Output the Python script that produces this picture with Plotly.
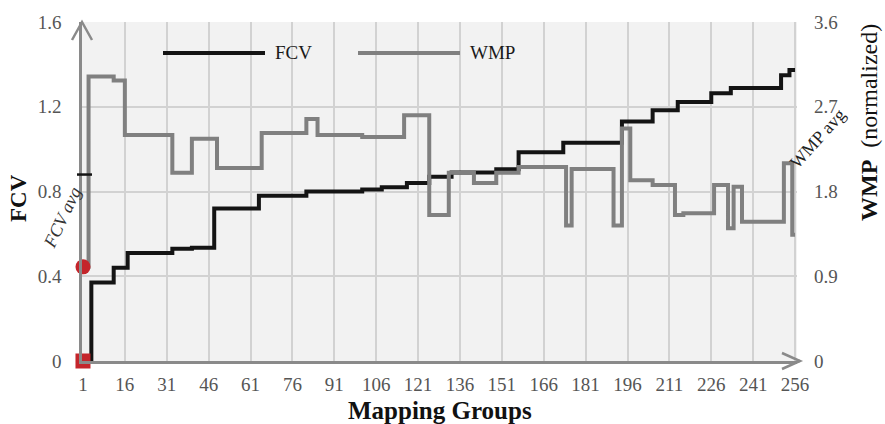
import plotly.graph_objects as go

# ---- data ----
groups_ticks = [1, 16, 31, 46, 61, 76, 91, 106, 121, 136, 151, 166, 181, 196, 211, 226, 241, 256]

# FCV: step breakpoints (group where level starts, level)
fcv_groups = [1, 4, 12, 17, 33, 40, 48, 64, 81, 101, 108, 117, 125, 133, 149, 157, 173, 194, 205, 214, 226, 233, 251, 254, 256]
fcv_values = [0.0, 0.37, 0.44, 0.51, 0.53, 0.535, 0.72, 0.78, 0.80, 0.81, 0.82, 0.84, 0.87, 0.89, 0.905, 0.985, 1.03, 1.13, 1.184, 1.222, 1.264, 1.288, 1.349, 1.373, 1.373]

# WMP (normalized): step breakpoints
wmp_groups = [1, 3, 12, 16, 33, 40, 49, 65, 81, 85, 101, 116, 125, 132, 141, 149, 157, 174, 176, 191, 194, 197, 205, 213, 216, 227, 232, 234, 237, 252, 255, 256]
wmp_values = [1.0, 3.02, 2.98, 2.40, 2.00, 2.36, 2.05, 2.42, 2.57, 2.40, 2.38, 2.61, 1.55, 2.00, 1.89, 2.00, 2.06, 1.44, 2.04, 1.44, 2.47, 1.92, 1.87, 1.55, 1.57, 1.87, 1.41, 1.85, 1.48, 2.10, 1.34, 1.34]

fcv_avg = 0.88
fcv_ticks = [0, 0.4, 0.8, 1.2, 1.6]
fcv_ticktext = ["0", "0.4", "0.8", "1.2", "1.6"]
wmp_ticks = [0, 0.9, 1.8, 2.7, 3.6]
wmp_ticktext = ["0", "0.9", "1.8", "2.7", "3.6"]

SERIF = "Liberation Serif"
GRAY_TXT = "#555555"
AXIS_GRAY = "#8a8a8a"

fig = go.Figure()
fig.add_trace(go.Scatter(x=fcv_groups, y=fcv_values, mode="lines", line=dict(color="#141414", width=4, shape="hv"),
                         name="FCV", yaxis="y", showlegend=False))
fig.add_trace(go.Scatter(x=wmp_groups, y=wmp_values, mode="lines", line=dict(color="#808080", width=4, shape="hv"),
                         name="WMP", yaxis="y2", showlegend=False))
# red start markers
fig.add_trace(go.Scatter(x=[fcv_groups[0]], y=[fcv_values[0]], mode="markers", yaxis="y",
                         marker=dict(symbol="square", size=15, color="#c4252b"), cliponaxis=False, showlegend=False))
fig.add_trace(go.Scatter(x=[wmp_groups[0]], y=[wmp_values[0]], mode="markers", yaxis="y2",
                         marker=dict(symbol="circle", size=15, color="#c4252b"), cliponaxis=False, showlegend=False))

L, R, T, B = 82, 88, 22, 63
W, H = 885, 424
pw, ph = W - L - R, H - T - B

def px(x):
    return (x - L) / pw

def py(y):
    return (H - B - y) / ph

shapes = []
# legend lines
shapes.append(dict(type="line", xref="paper", yref="paper", x0=px(163), x1=px(265), y0=py(53), y1=py(53),
                   line=dict(color="#141414", width=4)))
shapes.append(dict(type="line", xref="paper", yref="paper", x0=px(358), x1=px(460), y0=py(53), y1=py(53),
                   line=dict(color="#808080", width=4)))
# axis arrows
shapes.append(dict(type="path", xref="paper", yref="paper",
                   path=f"M {px(72)} {py(40)} L {px(82)} {py(22)} L {px(92)} {py(40)}",
                   line=dict(color=AXIS_GRAY, width=2.5)))
shapes.append(dict(type="line", xref="paper", yref="paper", x0=1, x1=px(800), y0=0, y1=0,
                   line=dict(color=AXIS_GRAY, width=2.5)))
shapes.append(dict(type="path", xref="paper", yref="paper",
                   path=f"M {px(782)} {py(353)} L {px(800)} {py(361)} L {px(782)} {py(369)}",
                   line=dict(color=AXIS_GRAY, width=2.5)))
# FCV avg tick
shapes.append(dict(type="line", xref="paper", yref="y", x0=px(77), x1=px(92), y0=fcv_avg, y1=fcv_avg,
                   line=dict(color="#141414", width=2.5)))

def ann(x, y, text, size, angle=0, color="#111111"):
    return dict(xref="paper", yref="paper", x=px(x), y=py(y), text=text, showarrow=False,
                xanchor="center", yanchor="middle", textangle=angle,
                font=dict(family=SERIF, size=size, color=color))

annotations = [
    dict(ann(273, 53, "FCV", 19, color="#1a1a1a"), xanchor="left"),
    dict(ann(468, 53, "WMP", 19, color="#1a1a1a"), xanchor="left"),
    ann(18, 198, "<b>FCV</b>", 23, -90),
    ann(440, 410, "<b>Mapping Groups</b>", 25),
    ann(869, 123, "<b>WMP</b>  (normalized)", 24, -90),
    ann(62, 218, "<i>FCV avg</i>", 18, -65, "#333333"),
    ann(818, 138, "WMP avg", 18, -48, "#222222"),
]

fig.update_layout(
    width=W, height=H,
    margin=dict(l=L, r=R, t=T, b=B, pad=0),
    paper_bgcolor="white",
    plot_bgcolor="#f2f2f2",
    showlegend=False,
    xaxis=dict(range=[0.65, 256.7], tickvals=groups_ticks, ticktext=[str(v) for v in groups_ticks],
               showgrid=True, gridcolor="#d2d2d2", gridwidth=2, zeroline=False,
               showline=True, linecolor=AXIS_GRAY, linewidth=2.5, ticks="", ticklabelstandoff=4,
               tickfont=dict(family=SERIF, size=19, color=GRAY_TXT)),
    yaxis=dict(range=[0, 1.6], tickvals=fcv_ticks, ticktext=fcv_ticktext,
               showgrid=True, gridcolor="#d2d2d2", gridwidth=2, zeroline=False,
               showline=True, linecolor=AXIS_GRAY, linewidth=2.5, ticks="", ticklabelstandoff=14,
               tickfont=dict(family=SERIF, size=19, color=GRAY_TXT)),
    yaxis2=dict(range=[0, 3.6], tickvals=wmp_ticks, ticktext=wmp_ticktext, overlaying="y", side="right",
                showgrid=False, zeroline=False, showline=False, ticks="", ticklabelstandoff=16,
                tickfont=dict(family=SERIF, size=19, color=GRAY_TXT)),
    shapes=shapes,
    annotations=annotations,
)

fig.write_html("out.html")
